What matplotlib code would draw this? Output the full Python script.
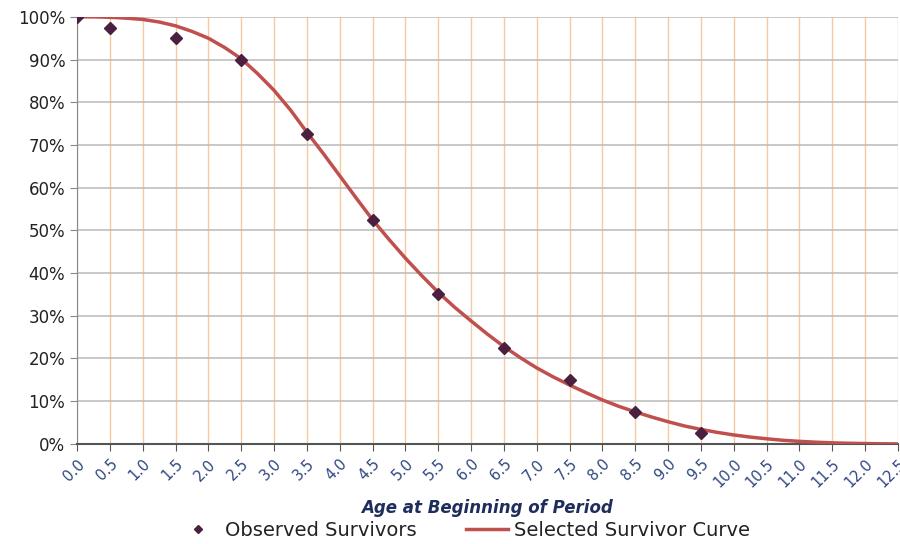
import matplotlib.pyplot as plt
import numpy as np

# observed survivors (age, percent surviving)
obs_age = [0.0, 0.5, 1.5, 2.5, 3.5, 4.5, 5.5, 6.5, 7.5, 8.5, 9.5]
obs_pct = [100, 97.5, 95, 90, 72.5, 52.5, 35, 22.5, 15, 7.5, 2.5]

# selected survivor curve, every quarter year
curve_age = [0.0, 0.25, 0.5, 0.75, 1.0, 1.25, 1.5, 1.75, 2.0, 2.25, 2.5, 2.75,
             3.0, 3.25, 3.5, 3.75, 4.0, 4.25, 4.5, 4.75, 5.0, 5.25, 5.5, 5.75,
             6.0, 6.25, 6.5, 6.75, 7.0, 7.25, 7.5, 7.75, 8.0, 8.25, 8.5, 8.75,
             9.0, 9.25, 9.5, 9.75, 10.0, 10.25, 10.5, 10.75, 11.0, 11.25, 11.5,
             11.75, 12.0, 12.25, 12.5]
curve_pct = [100, 100, 99.9, 99.7, 99.4, 98.8, 97.9, 96.6, 95.0, 92.8, 90.2, 86.7,
             82.8, 78.2, 73.0, 68.0, 62.8, 57.6, 52.5, 47.9, 43.5, 39.4, 35.5, 32.0,
             28.8, 25.7, 22.8, 20.2, 17.8, 15.7, 13.8, 12.0, 10.3, 8.8, 7.5, 6.3,
             5.2, 4.2, 3.4, 2.7, 2.1, 1.6, 1.2, 0.85, 0.6, 0.4, 0.25,
             0.15, 0.08, 0.03, 0.0]

xticks = np.arange(0, 12.51, 0.5)

fig = plt.figure(figsize=(9, 5.44), dpi=100)
ax = fig.add_axes([0.0856, 0.184, 0.912, 0.785])

ax.plot(curve_age, curve_pct, color='#C0504D', lw=2.5, label='Selected Survivor Curve', zorder=3)
ax.plot(obs_age, obs_pct, 'D', color='#4A1F40', ms=6, label='Observed Survivors', zorder=4)

ax.set_xlim(0, 12.5)
ax.set_ylim(0, 100)
ax.set_xticks(xticks)
ax.set_xticklabels(['%.1f' % t for t in xticks], rotation=45, ha='right',
                   rotation_mode='anchor', color='#2F4680', fontsize=10.5)
ax.set_yticks(range(0, 101, 10))
ax.set_yticklabels(['%d%%' % v for v in range(0, 101, 10)], fontsize=12, color='#222222')

ax.grid(axis='x', color='#F8C9A0', lw=1)
ax.grid(axis='y', color='#BFBFBF', lw=1.2)
ax.set_axisbelow(True)
for s in ['top', 'right']:
    ax.spines[s].set_visible(False)
ax.spines['left'].set_color('#888888')
ax.spines['bottom'].set_color('#555555')
ax.spines['bottom'].set_linewidth(1.5)
ax.tick_params(axis='x', length=5, color='#555555', pad=4)
ax.tick_params(axis='y', length=5, color='#888888')

ax.set_xlabel('Age at Beginning of Period', fontsize=12, fontweight='bold',
              fontstyle='italic', color='#1F2D5C', labelpad=6)

h, l = ax.get_legend_handles_labels()
fig.legend([h[1], h[0]], [l[1], l[0]], loc='lower center', bbox_to_anchor=(0.515, -0.025),
           ncol=2, frameon=False, fontsize=14, handlelength=2.2, columnspacing=2.5,
           handletextpad=0.3, markerscale=0.7, labelcolor='#222222')

plt.savefig('out.png', dpi=100)
